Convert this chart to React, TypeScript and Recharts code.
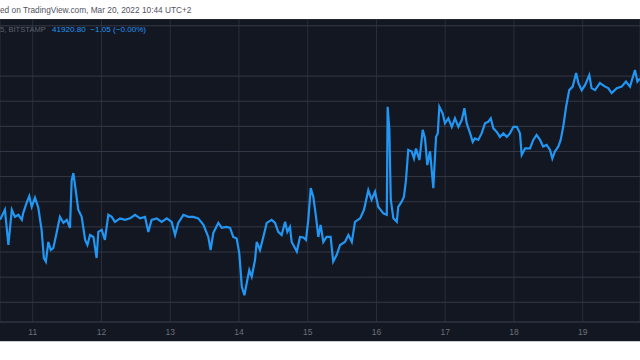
import React from 'react';
import { LineChart, Line, XAxis, YAxis, CartesianGrid } from 'recharts';

// hours since Mar 11 00:00 (UTC+2)
const hours = [
  -11.4, -9.7, -8.5, -7.3, -6.2, -5.0, -3.8, -3.3, -2.1, -1.2, -0.35, 0.8, 1.95, 3.1, 3.9, 4.6, 5.45, 6.3, 7.2, 8.4,
  9.5, 10.7, 11.9, 13.0, 13.6, 14.2, 15.0, 15.9, 17.1, 18.3, 19.1, 20.0, 21.2, 22.3, 22.9, 24.1, 25.2, 26.4, 27.6, 28.7,
  30.5, 32.2, 34.0, 35.7, 37.5, 39.2, 40.35, 41.5, 43.3, 45.0, 46.8, 48.5, 49.7, 50.8, 52.6, 54.3, 56.1, 57.8, 59.6, 61.3,
  62.1, 63.05, 64.8, 66.0, 67.7, 68.9, 70.0, 71.2, 72.1, 73.0, 73.9, 74.7, 75.6, 76.45, 77.6, 78.2, 79.35, 80.5, 81.7, 83.4,
  84.6, 85.7, 86.9, 88.1, 88.9, 89.8, 90.4, 92.2, 93.3, 94.5, 95.4, 96.2, 97.05, 97.95, 98.9, 99.7, 100.5, 101.45, 102.6, 104.0,
  104.9, 106.1, 107.3, 109.0, 110.2, 111.4, 112.5, 114.3, 115.65, 117.15, 118.3, 119.5, 120.6, 122.4, 123.6, 123.9, 124.5, 125.0, 125.9, 127.1,
  127.6, 128.8, 129.6, 130.3, 131.1, 132.3, 133.1, 133.8, 135.0, 136.15, 136.95, 137.75, 138.7, 139.85, 140.8, 141.4, 141.95, 143.1, 143.9, 145.1,
  146.3, 147.4, 148.6, 149.8, 150.7, 151.5, 152.7, 153.6, 154.4, 155.55, 156.7, 157.9, 159.0, 159.9, 160.8, 162.0, 163.1, 164.3, 165.5, 166.6,
  167.8, 169.0, 170.1, 170.7, 171.9, 173.6, 174.75, 175.9, 177.1, 178.2, 179.4, 180.6, 181.4, 182.3, 183.5, 184.3, 185.2, 186.2, 187.3, 188.5,
  189.7, 190.5, 191.65, 192.8, 194.3, 195.1, 196.3, 198.0, 199.8, 200.9, 202.1, 203.9, 205.6, 207.1, 208.5, 210.25, 211.1, 212.0,
];

const prices = [
  39140, 39340, 38640, 39340, 39200, 39240, 39140, 39280, 39480, 39610, 39400, 39580, 39380, 38940, 38380, 38310, 38700, 38540, 38580, 38900,
  39200, 39080, 39140, 38980, 39930, 40070, 39730, 39340, 39200, 38740, 38640, 38840, 38800, 38380, 38900, 38940, 38740, 39240, 39200, 39100,
  39170, 39140, 39170, 39240, 39170, 39200, 38900, 39140, 39170, 39100, 39170, 39100, 38840, 39080, 39240, 39200, 39200, 39170, 39040, 38800,
  38540, 38880, 39080, 38980, 39000, 38980, 38800, 38770, 38480, 37810, 37640, 37880, 38140, 38010, 38340, 38700, 38540, 38800, 39080, 39140,
  39080, 38900, 38840, 39100, 38900, 39000, 38700, 38510, 38800, 38790, 38740, 39140, 39770, 39600, 39200, 38800, 39040, 38700, 38800, 38800,
  38310, 38440, 38640, 38700, 38840, 38700, 39100, 39170, 39340, 39730, 39540, 39700, 39400, 39270, 39240, 41390, 40930, 39540, 39170, 39100,
  39400, 39500, 39600, 39930, 40530, 40500, 40360, 40560, 40330, 40930, 40760, 40230, 40500, 39770, 40790, 40860, 41390, 41260, 41060, 41160,
  40990, 41160, 40990, 41130, 41360, 41060, 40860, 40690, 40760, 40730, 40860, 41060, 41090, 41160, 40960, 40890, 40790, 40860, 40790, 40860,
  40990, 40990, 40860, 40430, 40560, 40560, 40730, 40830, 40730, 40600, 40630, 40530, 40360, 40500, 40600, 40730, 40990, 41390, 41720, 41790,
  42060, 41860, 41720, 41820, 42020, 41760, 41720, 41860, 41790, 41760, 41660, 41760, 41790, 41890, 41790, 42120, 41890, 41950,
];

const dayTicks = [0, 24, 48, 72, 96, 120, 144, 168, 192];
const dayLabels = ['11', '12', '13', '14', '15', '16', '17', '18', '19'];
const priceTicks = [37500, 38000, 38500, 39000, 39500, 40000, 40500, 41000, 41500, 42000, 42500, 43000];

const data = hours.map((h, i) => ({ h, price: prices[i] }));

const FONT = '"Liberation Sans", Arial, sans-serif';

export default function App() {
  return (
    <div
      style={{
        position: 'absolute',
        left: 0,
        top: 0,
        width: 640,
        height: 360,
        background: '#ffffff',
        overflow: 'hidden',
        fontFamily: FONT,
      }}
    >
      <div style={{ position: 'absolute', left: 0, top: 19, width: 640, height: 322, background: '#131722' }} />
      <div style={{ position: 'absolute', left: 0, top: 341, width: 640, height: 1, background: '#c9ccd4' }} />
      <div style={{ position: 'absolute', left: 0, top: 19 }}>
        <LineChart width={640} height={322} data={data} margin={{ top: 0, right: 0, bottom: 0, left: 0 }}>
          <CartesianGrid horizontal={false} vertical stroke="#2a2e3a" strokeWidth={1} />
          <CartesianGrid horizontal vertical={false} stroke="#353946" strokeWidth={1} />
          <XAxis
            dataKey="h"
            type="number"
            domain={[-11.42, 212]}
            ticks={dayTicks}
            tickFormatter={(v: number) => dayLabels[dayTicks.indexOf(v)] ?? ''}
            height={19}
            tickLine={false}
            tickSize={0}
            tickMargin={7}
            axisLine={{ stroke: '#2f3340' }}
            tick={{ fill: '#6c6f7a', fontSize: 8.5, fontFamily: FONT }}
            allowDataOverflow
          />
          <YAxis hide type="number" domain={[37108, 43135]} ticks={priceTicks} allowDataOverflow />
          <Line
            type="linear"
            dataKey="price"
            stroke="#2196f3"
            strokeWidth={2.2}
            dot={false}
            isAnimationActive={false}
          />
        </LineChart>
      </div>
      <div
        style={{
          position: 'absolute',
          left: 0,
          top: 5,
          fontSize: 8.3,
          lineHeight: '11px',
          color: '#50535e',
          whiteSpace: 'nowrap',
        }}
      >
        ed on TradingView.com, Mar 20, 2022 10:44 UTC+2
      </div>
      <div
        style={{
          position: 'absolute',
          left: 0,
          top: 25,
          fontSize: 7.6,
          lineHeight: '10px',
          color: '#5f626d',
          whiteSpace: 'nowrap',
        }}
      >
        5, BITSTAMP
      </div>
      <div
        style={{
          position: 'absolute',
          left: 52,
          top: 25,
          fontSize: 8.1,
          lineHeight: '10px',
          color: '#2196f3',
          whiteSpace: 'pre',
        }}
      >
        {'41920.80  \u22121.05 (\u22120.00%)'}
      </div>
    </div>
  );
}
